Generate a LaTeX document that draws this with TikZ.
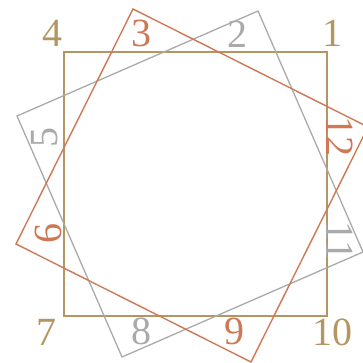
\documentclass[tikz,border=0pt]{standalone}
\usepackage{fontspec}
\setmainfont{Liberation Serif}
\definecolor{goldc}{RGB}{180,150,98}
\definecolor{orangec}{RGB}{208,120,86}
\definecolor{grayc}{RGB}{170,170,170}
\tikzset{
  lbl/.style={inner sep=0pt, font=\fontsize{40}{40}\selectfont},
  goldsq/.style={draw=goldc, line width=1.8pt, line join=miter},
  graysq/.style={draw=grayc, line width=1.3pt, line join=miter},
  orangesq/.style={draw=orangec, line width=1.4pt, line join=miter},
}
\begin{document}
\begin{tikzpicture}[x=1pt,y=-1pt]
\useasboundingbox (0,0) rectangle (362,363);
% gold square
\coordinate (g1) at (327,52);
\coordinate (g4) at (64,52);
\coordinate (g7) at (64,316);
\coordinate (g10) at (327,316);
\draw[goldsq] (g1) -- (g4) -- (g7) -- (g10) -- cycle;
% gray square
\coordinate (s2) at (258,11);
\coordinate (s5) at (17,116);
\coordinate (s8) at (122,357);
\coordinate (s11) at (363,252);
\draw[graysq] (s2) -- (s5) -- (s8) -- (s11) -- cycle;
% orange square
\coordinate (o3) at (133,9);
\coordinate (o6) at (16,244);
\coordinate (o9) at (251,362);
\coordinate (o12) at (368,127);
\draw[orangesq] (o3) -- (o6) -- (o9) -- (o12) -- cycle;
% labels
\node[lbl, text=goldc] (l1) at (332,33.5) {1};
\node[lbl, text=grayc] (l2) at (237,34) {2};
\node[lbl, text=orangec] (l3) at (141.5,33.5) {3};
\node[lbl, text=goldc] (l4) at (52,33.5) {4};
\node[lbl, text=grayc, rotate=90] (l5) at (44.5,138) {5};
\node[lbl, text=orangec, rotate=90] (l6) at (48.5,233) {6};
\node[lbl, text=goldc] (l7) at (46,332) {7};
\node[lbl, text=grayc] (l8) at (141,331.5) {8};
\node[lbl, text=orangec] (l9) at (234,331.5) {9};
\node[lbl, text=goldc] (l10) at (332,332.5) {10};
\node[lbl, text=grayc, rotate=-90] (l11) at (339.5,241) {11};
\node[lbl, text=orangec, rotate=-90] (l12) at (339.5,136.5) {12};
\end{tikzpicture}
\end{document}
